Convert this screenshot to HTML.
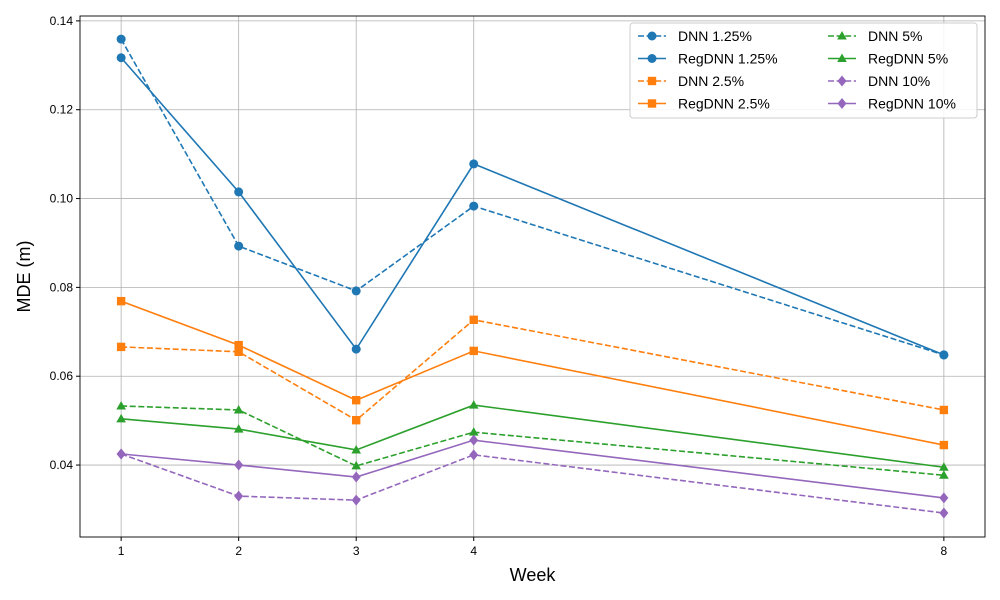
<!DOCTYPE html>
<html><head><meta charset="utf-8"><style>
body{margin:0;background:#fff;}
svg{display:block;font-family:"Liberation Sans","DejaVu Sans",sans-serif;}
</style></head><body>
<svg id="chart" width="1000" height="600"></svg>
<script>
const weeks=[1,2,3,4,8];
const yTicks=[0.04,0.06,0.08,0.10,0.12,0.14];
const seriesNames=["DNN 1.25%","RegDNN 1.25%","DNN 2.5%","RegDNN 2.5%","DNN 5%","RegDNN 5%","DNN 10%","RegDNN 10%"];
const dnn125=[0.1359,0.0893,0.0792,0.0983,0.0648];
const reg125=[0.1317,0.1015,0.0661,0.1078,0.0648];
const dnn25=[0.0666,0.0655,0.0501,0.0727,0.0524];
const reg25=[0.0769,0.0670,0.0546,0.0657,0.0445];
const dnn5=[0.0533,0.0524,0.0398,0.0474,0.0377];
const reg5=[0.0504,0.0481,0.0434,0.0535,0.0395];
const dnn10=[0.0425,0.0330,0.0321,0.0423,0.0292];
const reg10=[0.0425,0.0400,0.0373,0.0456,0.0326];
const seriesValues=[dnn125,reg125,dnn25,reg25,dnn5,reg5,dnn10,reg10];
const colors=["#1f77b4","#1f77b4","#ff7f0e","#ff7f0e","#2ca02c","#2ca02c","#9467bd","#9467bd"];
const markers=["o","o","s","s","^","^","D","D"];
const dashed=[true,false,true,false,true,false,true,false];

const L=80,R=985,T=16,B=537;
const xMin=0.65,xMax=8.35,yMin=0.0238,yMax=0.1411;
const X=w=>L+(w-xMin)/(xMax-xMin)*(R-L);
const Y=v=>B-(v-yMin)/(yMax-yMin)*(B-T);
const NS="http://www.w3.org/2000/svg";
const svg=document.getElementById('chart');
function mk(tag,attrs,parent){const e=document.createElementNS(NS,tag);for(const k in attrs)e.setAttribute(k,attrs[k]);(parent||svg).appendChild(e);return e;}
function marker(type,x,y,c,parent){
  let e;
  if(type==="o")e=mk('circle',{cx:x,cy:y,r:4.5,fill:c},parent);
  else if(type==="s")e=mk('rect',{x:x-4.2,y:y-4.2,width:8.4,height:8.4,fill:c},parent);
  else if(type==="^")e=mk('polygon',{points:`${x},${y-5} ${x-4.8},${y+3.5} ${x+4.8},${y+3.5}`,fill:c},parent);
  else e=mk('polygon',{points:`${x},${y-5.5} ${x+4.5},${y} ${x},${y+5.5} ${x-4.5},${y}`,fill:c},parent);
  return e;
}
const grid=mk('g',{});


weeks.forEach(w=>{mk('line',{x1:X(w),x2:X(w),y1:T,y2:B,stroke:'#b0b0b0','stroke-width':0.8},grid);});
yTicks.forEach(v=>{mk('line',{x1:L,x2:R,y1:Y(v),y2:Y(v),stroke:'#b0b0b0','stroke-width':0.8},grid);});
const xAxis=mk('g',{});


weeks.forEach(w=>{
  mk('line',{x1:X(w),x2:X(w),y1:B,y2:B+4,stroke:'#000'},xAxis);
  const t=mk('text',{x:X(w),y:B+18,'text-anchor':'middle','font-size':12},xAxis);t.textContent=w;
  
  
});
const yAxis=mk('g',{});


yTicks.forEach(v=>{
  mk('line',{x1:L-4,x2:L,y1:Y(v),y2:Y(v),stroke:'#000'},yAxis);
  const t=mk('text',{x:L-7,y:Y(v)+4,'text-anchor':'end','font-size':12},yAxis);t.textContent=v.toFixed(2);
  
  
});
const xt=mk('text',{x:(L+R)/2,y:581,'text-anchor':'middle','font-size':18});xt.textContent='Week';


const yt=mk('text',{x:0,y:0,'text-anchor':'middle','font-size':18,transform:`translate(30,${(T+B)/2}) rotate(-90)`});yt.textContent='MDE (m)';


seriesValues.forEach((vals,i)=>{
  const g=mk('g',{});
  
  
  const pts=vals.map((v,j)=>`${X(weeks[j])},${Y(v)}`).join(' ');
  const attrs={points:pts,fill:'none',stroke:colors[i],'stroke-width':1.6};
  if(dashed[i])attrs['stroke-dasharray']='6,2.6';
  mk('polyline',attrs,g);
  vals.forEach((v,j)=>{const m=marker(markers[i],X(weeks[j]),Y(v),colors[i],g);
    
    });
});
mk('rect',{x:L,y:T,width:R-L,height:B-T,fill:'none',stroke:'#000','stroke-width':0.9});
const lg=mk('g',{});


mk('rect',{x:630,y:23,width:347,height:95,rx:3,fill:'#fff','fill-opacity':0.85,stroke:'#ccc'},lg);
seriesNames.forEach((n,i)=>{
  const col=Math.floor(i/4), row=i%4;
  const x0=col===0?638:828, y0=36+row*22.5;
  const e=mk('g',{},lg);
  
  
  const a={x1:x0,x2:x0+28,y1:y0,y2:y0,stroke:colors[i],'stroke-width':1.6};
  if(dashed[i])a['stroke-dasharray']='6,2.6';
  mk('line',a,e);
  marker(markers[i],x0+14,y0,colors[i],e);
  const t=mk('text',{x:x0+40,y:y0+5,'font-size':14},e);t.textContent=n;
});
</script>
</body></html>
